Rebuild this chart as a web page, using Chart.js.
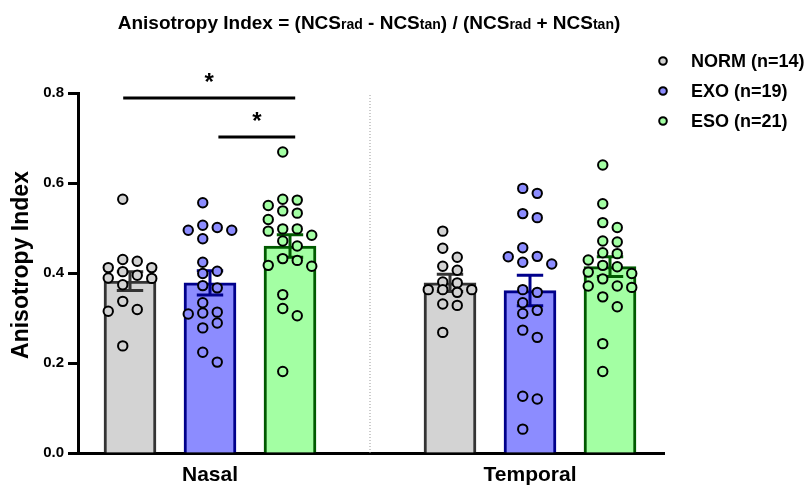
<!DOCTYPE html>
<html>
<head>
<meta charset="utf-8">
<script src="https://cdn.jsdelivr.net/npm/chart.js"></script>
<style>
  html, body { margin: 0; padding: 0; background: #fff; }
  #wrap { width: 811px; height: 487px; }
</style>
</head>
<body>
<div id="wrap"><canvas id="chart"></canvas></div>
<script>
// categories and groups
const regions = ['Nasal', 'Temporal'];
const groupNames = ['NORM (n=14)', 'EXO (n=19)', 'ESO (n=21)'];

// individual values
const normNasal = [0.564, 0.430, 0.426, 0.412, 0.412, 0.403, 0.388, 0.389, 0.395, 0.374, 0.337, 0.315, 0.319, 0.238];
const exoNasal = [0.556, 0.506, 0.495, 0.501, 0.495, 0.476, 0.424, 0.404, 0.399, 0.372, 0.367, 0.334, 0.309, 0.311, 0.313, 0.289, 0.278, 0.224, 0.202];
const esoNasal = [0.669, 0.550, 0.564, 0.562, 0.533, 0.538, 0.519, 0.498, 0.498, 0.493, 0.484, 0.471, 0.460, 0.432, 0.428, 0.415, 0.417, 0.352, 0.305, 0.321, 0.181];
const normTemporal = [0.493, 0.455, 0.435, 0.415, 0.406, 0.378, 0.380, 0.363, 0.363, 0.363, 0.357, 0.328, 0.331, 0.268];
const exoTemporal = [0.588, 0.577, 0.523, 0.532, 0.456, 0.424, 0.420, 0.436, 0.437, 0.357, 0.363, 0.334, 0.310, 0.317, 0.273, 0.257, 0.120, 0.126, 0.053];
const esoTemporal = [0.640, 0.554, 0.501, 0.512, 0.469, 0.471, 0.445, 0.443, 0.429, 0.417, 0.414, 0.402, 0.399, 0.387, 0.368, 0.371, 0.371, 0.347, 0.325, 0.243, 0.181];

// bar heights (mean) and error (SEM), order NORM, EXO, ESO
const meanNasal = [0.382, 0.378, 0.460];
const meanTemporal = [0.378, 0.361, 0.414];
const semNasal = [0.021, 0.027, 0.025];
const semTemporal = [0.019, 0.034, 0.022];

// significance bars (x in slot units, y in index units)
const sigStart = [-0.085, 1.105];
const sigEnd = [2.065, 2.065];
const sigLevel = [0.789, 0.702];
const sigText = ['*', '*'];

const yTicks = [0, 0.2, 0.4, 0.6, 0.8];

const fills = ['#d3d3d3', '#8c8cff', '#a3ffa3'];
const edges = ['#333333', '#00008b', '#005a00'];
const FONT = "'Liberation Sans', Arial, sans-serif";

const points = [[normNasal, normTemporal], [exoNasal, exoTemporal], [esoNasal, esoTemporal]];
const means = [meanNasal, meanTemporal];
const sems = [semNasal, semTemporal];

// slot of a bar: group g, series i
function slot(g, i) { return g * 4 + i; }

// column scatter: each dot goes into the nearest free column (4 columns)
function columns(values, center) {
  const colW = 14.5, D = 10, yPx = 450, xPx = 80;
  const cols = [-0.5, 0.5, -1.5, 1.5];
  const order = values.map((v, i) => i).sort((a, b) => values[b] - values[a]);
  const used = cols.map(() => []);
  const xs = [];
  order.forEach(i => {
    const y = values[i] * yPx;
    const gap = used.map(u => u.reduce((m, q) => Math.min(m, Math.abs(q - y)), Infinity));
    let k = gap.findIndex(d => d >= D);
    if (k < 0) k = gap.indexOf(Math.max(...gap));
    used[k].push(y);
    xs[i] = cols[k] * colW;
  });
  return values.map((v, i) => ({ x: center + xs[i] / xPx, y: v }));
}

function errorPath(x, m, s) {
  const c = 0.165;
  return [
    { x: x - c, y: m + s }, { x: x + c, y: m + s }, { x: x, y: null },
    { x: x, y: m + s }, { x: x, y: m - s }, { x: x, y: null },
    { x: x - c, y: m - s }, { x: x + c, y: m - s }
  ];
}

const datasets = [];

// dots (on top)
groupNames.forEach((name, i) => {
  const data = [];
  regions.forEach((r, g) => { data.push(...columns(points[i][g], slot(g, i))); });
  datasets.push({
    type: 'scatter', data: data, order: 0,
    backgroundColor: fills[i], borderColor: '#000', borderWidth: 2,
    pointRadius: 4.7, pointHoverRadius: 4.7, clip: false
  });
});

// error bars
groupNames.forEach((name, i) => {
  let data = [];
  regions.forEach((r, g) => {
    if (g > 0) data.push({ x: slot(g, i) - 1, y: null });
    data = data.concat(errorPath(slot(g, i), means[g][i], sems[g][i]));
  });
  datasets.push({
    type: 'line', data: data, order: 1, borderColor: edges[i], borderWidth: 3,
    pointRadius: 0, spanGaps: false, fill: false, borderCapStyle: 'butt'
  });
});

// significance lines
let sigData = [];
sigStart.forEach((s, k) => {
  if (k > 0) sigData.push({ x: s, y: null });
  sigData.push({ x: s, y: sigLevel[k] }, { x: sigEnd[k], y: sigLevel[k] });
});
datasets.push({
  type: 'line', data: sigData, order: 1, borderColor: '#000', borderWidth: 3,
  pointRadius: 0, spanGaps: false, fill: false, clip: false
});

// dotted divider between regions
datasets.push({
  type: 'line', data: [{ x: 3, y: 0 }, { x: 3, y: 0.8 }], order: 3,
  borderColor: '#999999', borderWidth: 1, borderDash: [1, 2], pointRadius: 0
});

// bars
groupNames.forEach((name, i) => {
  datasets.push({
    type: 'bar', label: name, order: 2,
    data: regions.map((r, g) => ({ x: slot(g, i), y: means[g][i] })),
    backgroundColor: fills[i], borderColor: edges[i], borderWidth: 3,
    barThickness: 52, grouped: false
  });
});

const extras = {
  id: 'extras',
  afterDraw(chart) {
    const ctx = chart.ctx, xs = chart.scales.x, ys = chart.scales.y;
    ctx.save();
    // asterisks
    ctx.fillStyle = '#000';
    ctx.textAlign = 'center';
    ctx.textBaseline = 'alphabetic';
    ctx.font = 'bold 24px ' + FONT;
    sigText.forEach((t, k) => {
      const cx = xs.getPixelForValue((sigStart[k] + sigEnd[k]) / 2);
      ctx.fillText(t, cx, ys.getPixelForValue(sigLevel[k]) - 8);
    });
    // y axis title
    ctx.save();
    ctx.translate(28, 265);
    ctx.rotate(-Math.PI / 2);
    ctx.font = 'bold 23px ' + FONT;
    ctx.fillText('Anisotropy Index', 0, 0);
    ctx.restore();
    // title with small rad/tan
    const parts = [['Anisotropy Index = (NCS', 19], ['rad', 14], [' - NCS', 19], ['tan', 14],
                   [') / (NCS', 19], ['rad', 14], [' + NCS', 19], ['tan', 14], [')', 19]];
    let w = 0;
    parts.forEach(p => { ctx.font = 'bold ' + p[1] + 'px ' + FONT; w += ctx.measureText(p[0]).width; });
    let x = (chart.chartArea.left + chart.chartArea.right) / 2 - w / 2 - 2;
    ctx.textAlign = 'left';
    parts.forEach(p => {
      ctx.font = 'bold ' + p[1] + 'px ' + FONT;
      ctx.fillText(p[0], x, 29);
      x += ctx.measureText(p[0]).width;
    });
    // legend
    groupNames.forEach((name, i) => {
      const ly = 61 + i * 30;
      ctx.beginPath();
      ctx.arc(663, ly, 3.8, 0, Math.PI * 2);
      ctx.fillStyle = fills[i];
      ctx.fill();
      ctx.lineWidth = 2;
      ctx.strokeStyle = '#000';
      ctx.stroke();
      ctx.fillStyle = '#000';
      ctx.font = 'bold 18px ' + FONT;
      ctx.textBaseline = 'middle';
      ctx.fillText(name, 691, ly + 1);
    });
    ctx.restore();
  }
};

new Chart(document.getElementById('chart'), {
  type: 'bar',
  data: { datasets: datasets },
  options: {
    responsive: true,
    maintainAspectRatio: false,
    animation: false,
    layout: { padding: { top: 93, right: 147, left: 0, bottom: 0 } },
    plugins: { legend: { display: false }, tooltip: { enabled: false } },
    scales: {
      x: {
        type: 'linear', min: -0.65, max: 6.675, offset: false, z: 1,
        grid: { display: false, drawTicks: false, offset: false },
        border: { display: true, color: '#000', width: 3 },
        afterBuildTicks(scale) { scale.ticks = regions.map((r, g) => ({ value: slot(g, 1) })); },
        afterFit(scale) { scale.height = 34; },
        ticks: {
          padding: 10, color: '#000', font: { family: FONT, size: 21, weight: 'bold' },
          callback(v) { return regions[Math.round((v - 1) / 4)]; }
        }
      },
      y: {
        type: 'linear', min: 0, max: 0.8, z: 1,
        grid: { drawOnChartArea: false, drawTicks: true, tickLength: 10, tickWidth: 3, tickColor: '#000' },
        border: { display: true, color: '#000', width: 3 },
        afterBuildTicks(scale) { scale.ticks = yTicks.map(v => ({ value: v })); },
        afterFit(scale) { scale.width = 78; },
        ticks: {
          padding: 4, color: '#000', font: { family: FONT, size: 15, weight: 'bold' },
          callback(v) { return v.toFixed(1); }
        }
      }
    }
  },
  plugins: [extras]
});
</script>
</body>
</html>
